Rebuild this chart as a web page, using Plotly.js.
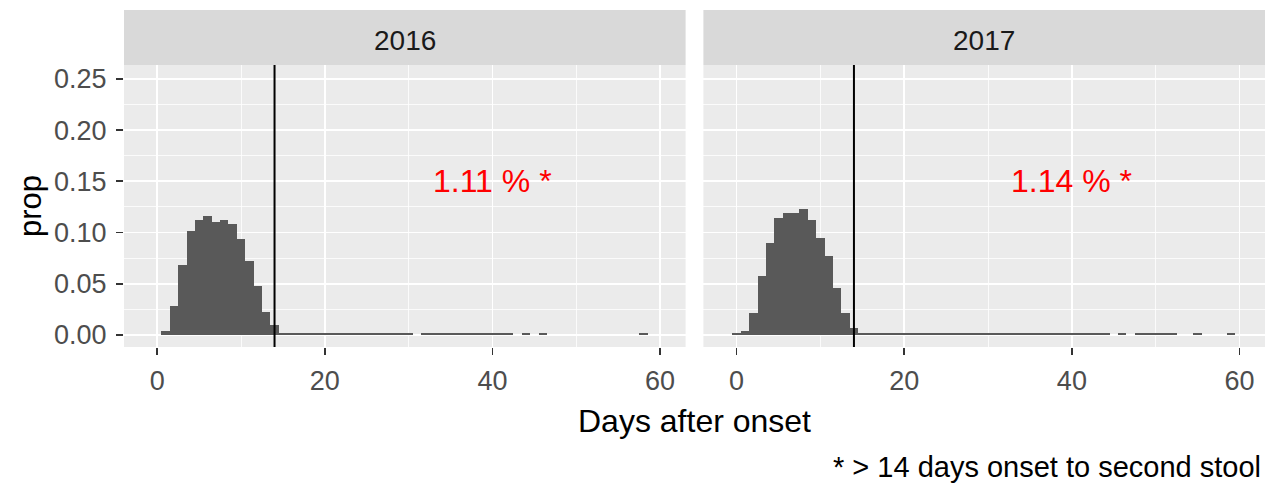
<!DOCTYPE html>
<html>
<head>
<meta charset="utf-8">
<script src="https://cdn.plot.ly/plotly-3.0.1.min.js"></script>
<style>
  html, body { margin: 0; padding: 0; background: #ffffff; }
  #chart { width: 1269px; height: 483px; }
</style>
</head>
<body>
<div id="chart"></div>
<script>
// ---- data ----
const facetLabels = ["2016", "2017"];
const pctLabels = ["1.11 % *", "1.14 % *"];
const cutoffDay = 14;

const days2016 = [1,2,3,4,5,6,7,8,9,10,11,12,13,14,
  15,16,17,18,19,20,21,22,23,24,25,26,27,28,29,30,
  32,33,34,35,36,37,38,39,40,41,42,44,46,58];
const prop2016 = [0.0036,0.0284,0.0680,0.1013,0.1121,0.1163,0.1098,0.1121,0.1078,0.0941,0.0722,0.0477,0.0219,0.0092,
  0.002,0.002,0.002,0.002,0.002,0.002,0.002,0.002,0.002,0.002,0.002,0.002,0.002,0.002,0.002,0.002,
  0.002,0.002,0.002,0.002,0.002,0.002,0.002,0.002,0.002,0.002,0.002,0.002,0.002,0.002];

const days2017 = [0,1,2,3,4,5,6,7,8,9,10,11,12,13,14,
  15,16,17,18,19,20,21,22,23,24,25,26,27,28,29,30,31,32,33,34,35,36,37,38,39,40,41,42,43,44,
  46,48,49,50,51,52,55,59];
const prop2017 = [0.0016,0.0042,0.0216,0.0572,0.0899,0.1144,0.1186,0.1186,0.1229,0.1121,0.0948,0.0768,0.0461,0.0216,0.0069,
  0.002,0.002,0.002,0.002,0.002,0.002,0.002,0.002,0.002,0.002,0.002,0.002,0.002,0.002,0.002,0.002,0.002,0.002,0.002,0.002,0.002,0.002,0.002,0.002,0.002,0.002,0.002,0.002,0.002,0.002,
  0.002,0.002,0.002,0.002,0.002,0.002,0.002,0.002];

const xTicks = [0, 20, 40, 60];
const yTicks = [0, 0.05, 0.10, 0.15, 0.20, 0.25];

// ---- styling ----
const FONT = "Liberation Sans, Arial, sans-serif";
const barColor = "#595959";
const panelBg = "#EBEBEB";
const stripBg = "#D9D9D9";

const W = 1269, H = 483;
const mL = 124, mR = 4.2, mT = 65, mB = 136.3;
const plotW = W - mL - mR, plotH = H - mT - mB;
const gapPx = 17.8;
const d1 = [0, (plotW - gapPx) / 2 / plotW];
const d2 = [1 - (plotW - gapPx) / 2 / plotW, 1];
const stripH = 55 / plotH;
const px2x = p => (p - mL) / plotW;
const px2y = p => (H - mB - p) / plotH;

const traces = [
  {type: "bar", x: days2016, y: prop2016, width: 1, xaxis: "x", yaxis: "y",
   marker: {color: barColor, line: {width: 0}}, hoverinfo: "x+y", showlegend: false},
  {type: "bar", x: days2017, y: prop2017, width: 1, xaxis: "x2", yaxis: "y2",
   marker: {color: barColor, line: {width: 0}}, hoverinfo: "x+y", showlegend: false}
];

const xRange = [-3.96, 63.04];
const yRange = [-0.0118, 0.2635];

function xAxis(domain, anchor) {
  return {
    domain: domain, anchor: anchor, range: xRange,
    tickvals: xTicks, ticktext: xTicks.map(String),
    showgrid: true, gridcolor: "#FFFFFF", gridwidth: 1.6,
    minor: {tickvals: [10, 30, 50], showgrid: true, gridcolor: "#FFFFFF", gridwidth: 0.8},
    zeroline: false, showline: false,
    ticks: "outside", ticklen: 7, tickwidth: 1.6, tickcolor: "#333333",
    ticklabelstandoff: 3,
    tickfont: {family: FONT, size: 27, color: "#4D4D4D"},
    fixedrange: true
  };
}
function yAxis(anchor, showLabels) {
  return {
    domain: [0, 1], anchor: anchor, range: yRange,
    tickvals: yTicks, ticktext: yTicks.map(v => v.toFixed(2)),
    showticklabels: showLabels,
    showgrid: true, gridcolor: "#FFFFFF", gridwidth: 1.6,
    minor: {tickvals: [0.025, 0.075, 0.125, 0.175, 0.225], showgrid: true, gridcolor: "#FFFFFF", gridwidth: 0.8},
    zeroline: false, showline: false,
    ticks: showLabels ? "outside" : "", ticklen: 7, tickwidth: 1.6, tickcolor: "#333333",
    ticklabelstandoff: 4,
    tickfont: {family: FONT, size: 27, color: "#4D4D4D"},
    fixedrange: true
  };
}

const yax2 = yAxis("x2", false);
yax2.matches = "y";

const shapes = [
  // panel backgrounds
  {type: "rect", xref: "paper", yref: "paper", x0: d1[0], x1: d1[1], y0: 0, y1: 1, fillcolor: panelBg, line: {width: 0}, layer: "below"},
  {type: "rect", xref: "paper", yref: "paper", x0: d2[0], x1: d2[1], y0: 0, y1: 1, fillcolor: panelBg, line: {width: 0}, layer: "below"},
  // strips
  {type: "rect", xref: "paper", yref: "paper", x0: d1[0], x1: d1[1], y0: 1, y1: 1 + stripH, fillcolor: stripBg, line: {width: 0}},
  {type: "rect", xref: "paper", yref: "paper", x0: d2[0], x1: d2[1], y0: 1, y1: 1 + stripH, fillcolor: stripBg, line: {width: 0}},
  // cutoff lines
  {type: "line", xref: "x", yref: "y domain", x0: cutoffDay, x1: cutoffDay, y0: 0, y1: 1, line: {color: "#000000", width: 2}},
  {type: "line", xref: "x2", yref: "y2 domain", x0: cutoffDay, x1: cutoffDay, y0: 0, y1: 1, line: {color: "#000000", width: 2}}
];

const annotations = [
  {xref: "paper", yref: "paper", x: (d1[0] + d1[1]) / 2, y: px2y(41), text: facetLabels[0], showarrow: false,
   xanchor: "center", yanchor: "middle", font: {family: FONT, size: 28, color: "#1A1A1A"}},
  {xref: "paper", yref: "paper", x: (d2[0] + d2[1]) / 2, y: px2y(41), text: facetLabels[1], showarrow: false,
   xanchor: "center", yanchor: "middle", font: {family: FONT, size: 28, color: "#1A1A1A"}},
  {xref: "x", yref: "y", x: 40, y: 0.15, text: pctLabels[0], showarrow: false,
   xanchor: "center", yanchor: "middle", font: {family: FONT, size: 32, color: "#FF0000"}},
  {xref: "x2", yref: "y2", x: 40, y: 0.15, text: pctLabels[1], showarrow: false,
   xanchor: "center", yanchor: "middle", font: {family: FONT, size: 32, color: "#FF0000"}},
  // axis titles
  {xref: "paper", yref: "paper", x: px2x(30), y: 0.5, text: "prop", textangle: -90, showarrow: false,
   xanchor: "center", yanchor: "middle", font: {family: FONT, size: 31, color: "#000000"}},
  {xref: "paper", yref: "paper", x: 0.5, y: px2y(421), text: "Days after onset", showarrow: false,
   xanchor: "center", yanchor: "middle", font: {family: FONT, size: 32, color: "#000000"}},
  // caption
  {xref: "paper", yref: "paper", x: px2x(1263), y: px2y(467), text: "* > 14 days onset to second stool", showarrow: false,
   xanchor: "right", yanchor: "middle", font: {family: FONT, size: 29, color: "#000000"}}
];

const layout = {
  width: W, height: H,
  margin: {l: mL, r: mR, t: mT, b: mB, pad: 0},
  paper_bgcolor: "#FFFFFF", plot_bgcolor: "rgba(0,0,0,0)",
  bargap: 0, barmode: "overlay",
  showlegend: false,
  font: {family: FONT},
  xaxis: xAxis(d1, "y"),
  xaxis2: xAxis(d2, "y2"),
  yaxis: yAxis("x", true),
  yaxis2: yax2,
  shapes: shapes,
  annotations: annotations
};

Plotly.newPlot("chart", traces, layout, {displayModeBar: false, staticPlot: true});
</script>
</body>
</html>
